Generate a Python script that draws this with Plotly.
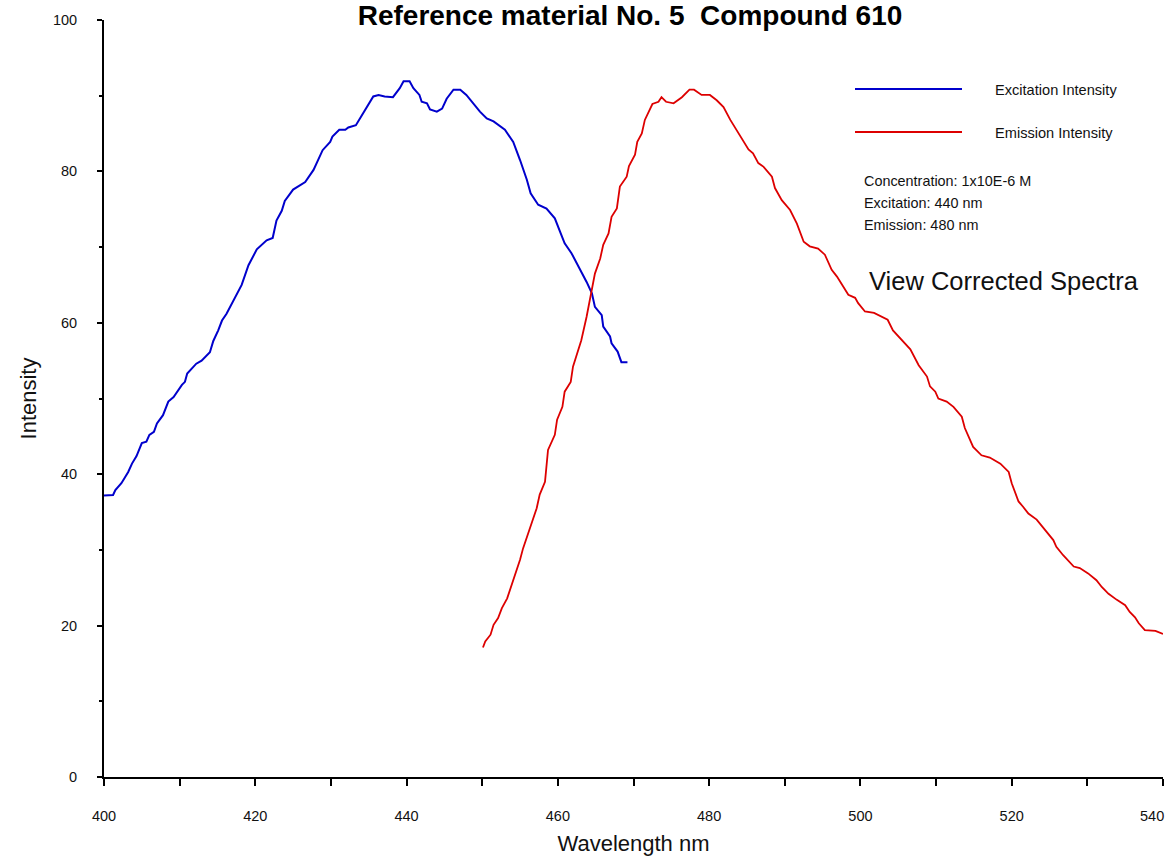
import plotly.graph_objects as go

# ---- data ----
ex_wavelength = [400.0, 401.2, 401.5, 402.3, 403.2, 403.7, 404.3, 405.0, 405.6, 406.0,
                 406.6, 407.0, 407.8, 408.5, 409.2, 410.3, 410.7, 411.0, 412.2, 412.9,
                 414.0, 414.45, 415.1, 415.6, 416.2, 416.9, 417.6, 418.2, 419.1, 420.2,
                 421.5, 422.3, 422.8, 423.5, 423.9, 425.0, 426.6, 427.7, 428.9, 429.9,
                 430.2, 431.1, 431.9, 432.3, 433.3, 434.3, 435.6, 436.3, 437.1, 438.2,
                 438.7, 439.1, 439.6, 440.4, 440.9, 441.7, 442.0, 442.7, 443.1, 444.0,
                 444.7, 445.3, 446.2, 447.1, 447.9, 448.6, 449.7, 450.6, 451.5, 453.0,
                 454.1, 455.0, 455.9, 456.4, 457.4, 458.5, 459.6, 460.3, 460.9, 461.8,
                 462.9, 463.8, 464.5, 464.9, 465.8, 466.0, 466.9, 467.1, 467.9, 468.4,
                 469.2]
ex_intensity = [37.2, 37.25, 37.9, 38.8, 40.3, 41.4, 42.4, 44.1, 44.3, 45.2,
                45.6, 46.7, 47.8, 49.6, 50.2, 51.8, 52.2, 53.3, 54.6, 55.0,
                56.1, 57.6, 59.0, 60.3, 61.2, 62.6, 63.8, 65.0, 67.6, 69.7,
                70.9, 71.2, 73.5, 74.8, 76.1, 77.6, 78.6, 80.2, 82.8, 83.9,
                84.6, 85.5, 85.5, 85.8, 86.1, 87.7, 89.9, 90.1, 89.9, 89.8,
                90.5, 91.0, 91.9, 91.9, 91.0, 90.1, 89.2, 89.0, 88.2, 87.9,
                88.3, 89.6, 90.8, 90.8, 90.1, 89.2, 87.9, 87.0, 86.6, 85.5,
                83.9, 81.5, 78.9, 77.1, 75.6, 75.1, 73.8, 72.0, 70.5, 69.2,
                67.2, 65.4, 63.9, 62.1, 61.0, 59.5, 58.2, 57.3, 56.2, 54.8,
                54.8]

em_wavelength = [450.1, 450.4, 451.1, 451.5, 452.1, 452.6, 453.3, 453.9, 454.6, 455.0,
                 455.4, 456.1, 456.6, 457.2, 457.6, 458.3, 458.7, 459.6, 459.9, 460.6,
                 460.9, 461.7, 462.0, 462.5, 463.1, 463.8, 464.2, 464.7, 464.9, 465.6,
                 466.0, 466.7, 467.1, 467.8, 468.2, 469.1, 469.4, 470.2, 470.5, 471.1,
                 471.5, 472.5, 473.3, 473.7, 474.3, 475.3, 476.4, 477.4, 478.0, 479.0,
                 480.1, 481.0, 481.9, 482.8, 483.6, 484.1, 484.7, 485.2, 485.8, 486.5,
                 487.2, 488.3, 488.7, 489.6, 490.7, 491.6, 492.5, 493.3, 494.4, 495.3,
                 496.2, 496.9, 498.4, 499.3, 499.7, 500.6, 501.8, 503.6, 504.3, 505.9,
                 506.6, 507.7, 508.8, 509.2, 509.9, 510.3, 511.4, 512.3, 513.4, 513.8,
                 514.9, 516.0, 517.1, 518.5, 519.6, 520.0, 520.9, 521.5, 522.2, 523.3,
                 524.6, 525.5, 525.9, 526.8, 528.2, 529.0, 530.1, 531.2, 531.9, 532.8,
                 533.9, 535.0, 535.6, 536.3, 536.8, 537.6, 539.0, 540.0]
em_intensity = [17.1, 17.9, 18.8, 20.1, 21.0, 22.3, 23.6, 25.4, 27.3, 28.7,
                30.2, 32.2, 33.9, 35.5, 37.3, 39.0, 43.2, 45.2, 47.2, 48.9,
                50.9, 52.2, 54.2, 55.7, 57.7, 60.8, 63.0, 65.2, 66.5, 68.5,
                70.3, 71.8, 74.0, 75.1, 78.0, 79.3, 80.7, 82.2, 83.9, 85.0,
                86.8, 88.9, 89.2, 89.8, 89.2, 89.0, 89.8, 90.8, 90.8, 90.1,
                90.1, 89.4, 88.5, 86.8, 85.5, 84.7, 83.9, 82.9, 82.4, 81.1,
                80.6, 79.3, 77.8, 76.2, 74.9, 73.1, 70.7, 70.1, 69.8, 69.0,
                67.0, 66.1, 63.7, 63.3, 62.6, 61.5, 61.3, 60.4, 59.0, 57.3,
                56.5, 54.4, 52.9, 51.6, 50.9, 50.0, 49.6, 48.9, 47.6, 46.1,
                43.6, 42.5, 42.2, 41.4, 40.3, 38.8, 36.4, 35.7, 34.8, 34.0,
                32.4, 31.3, 30.4, 29.3, 27.8, 27.6, 26.9, 26.0, 25.1, 24.2,
                23.4, 22.7, 21.8, 21.1, 20.3, 19.4, 19.3, 18.9]

x_ticks = [400, 420, 440, 460, 480, 500, 520, 540]
x_tick_labels = ["400", "420", "440", "460", "480", "500", "520", "540"]
y_ticks = [0, 20, 40, 60, 80, 100]

title_text = "Reference material No. 5  Compound 610"
ex_name = "Excitation Intensity"
em_name = "Emission Intensity"
info_lines = ["Concentration: 1x10E-6 M", "Excitation: 440 nm", "Emission: 480 nm"]
link_text = "View Corrected Spectra"

BLUE = "#0000cc"
RED = "#dd0000"
FONT = "Liberation Sans, Arial, sans-serif"

W, H = 1174, 859
ML, MR, MT, MB = 104, 11, 20, 82
PW, PH = W - ML - MR, H - MT - MB


def px(xp):
    return (xp - ML) / PW


def py(yp):
    return (MT + PH - yp) / PH


# the last x label is written as a right-aligned note so it stays inside the picture
shown_x_labels = list(x_tick_labels)
shown_x_labels[-1] = ""

fig = go.Figure()
fig.add_trace(go.Scatter(x=ex_wavelength, y=ex_intensity, mode="lines", name=ex_name,
                         line=dict(color=BLUE, width=2), showlegend=False))
fig.add_trace(go.Scatter(x=em_wavelength, y=em_intensity, mode="lines", name=em_name,
                         line=dict(color=RED, width=1.8), showlegend=False))

fig.add_annotation(xref="x", yref="paper", x=x_ticks[-1], y=py(816),
                   text=x_tick_labels[-1], showarrow=False, xanchor="right",
                   yanchor="middle", xshift=3,
                   font=dict(family=FONT, size=14.5, color="#111111"))

# hand-made legend
for yp, col, name in [(89, BLUE, ex_name), (132, RED, em_name)]:
    fig.add_shape(type="line", xref="paper", yref="paper",
                  x0=px(855), x1=px(962), y0=py(yp), y1=py(yp),
                  line=dict(color=col, width=2))
    fig.add_annotation(xref="paper", yref="paper", x=px(993), y=py(yp + 1),
                       text=name, showarrow=False, xanchor="left", yanchor="middle",
                       font=dict(family=FONT, size=14.6, color="#111111"))

for i, t in enumerate(info_lines):
    fig.add_annotation(xref="paper", yref="paper", x=px(862), y=py(181 + 22 * i),
                       text=t, showarrow=False, xanchor="left", yanchor="middle",
                       font=dict(family=FONT, size=14.4, color="#111111"))

fig.add_annotation(xref="paper", yref="paper", x=px(867), y=py(281),
                   text=link_text, showarrow=False, xanchor="left", yanchor="middle",
                   font=dict(family=FONT, size=25.5, color="#111111"))

fig.update_layout(
    width=W, height=H,
    margin=dict(l=ML, r=MR, t=MT, b=MB, autoexpand=False),
    paper_bgcolor="white", plot_bgcolor="white",
    font=dict(family=FONT, color="#111111"),
    title=dict(text="<b>" + title_text + "</b>", x=630 / W,
               xanchor="center", y=1 - 5 / H, yanchor="top", pad=dict(t=0, b=0),
               font=dict(family=FONT, size=28, color="#000000")),
    xaxis=dict(range=[400, 540], tickvals=x_ticks, ticktext=shown_x_labels,
               ticks="outside", ticklen=7,
               tickwidth=2, tickcolor="black", showline=True, linecolor="black",
               linewidth=2, showgrid=False, zeroline=False,
               tickfont=dict(family=FONT, size=14.5, color="#111111"),
               ticklabelstandoff=18, ticklabeloverflow="allow",
               minor=dict(dtick=10, tick0=400, ticks="outside", ticklen=7,
                          tickwidth=2, tickcolor="black", showgrid=False),
               title=dict(text="Wavelength nm", standoff=12,
                          font=dict(family=FONT, size=22, color="#111111"))),
    yaxis=dict(range=[0, 100], tickvals=y_ticks, ticks="outside", ticklen=5,
               tickwidth=2, tickcolor="black", showline=True, linecolor="black",
               linewidth=2, showgrid=False, zeroline=False,
               tickfont=dict(family=FONT, size=14.5, color="#111111"),
               ticklabelstandoff=17, ticklabeloverflow="allow",
               minor=dict(dtick=10, tick0=0, ticks="outside", ticklen=3,
                          tickwidth=2, tickcolor="black", showgrid=False),
               title=dict(text="Intensity", standoff=10,
                          font=dict(family=FONT, size=22, color="#111111"))),
)

fig.write_html("out.html")
